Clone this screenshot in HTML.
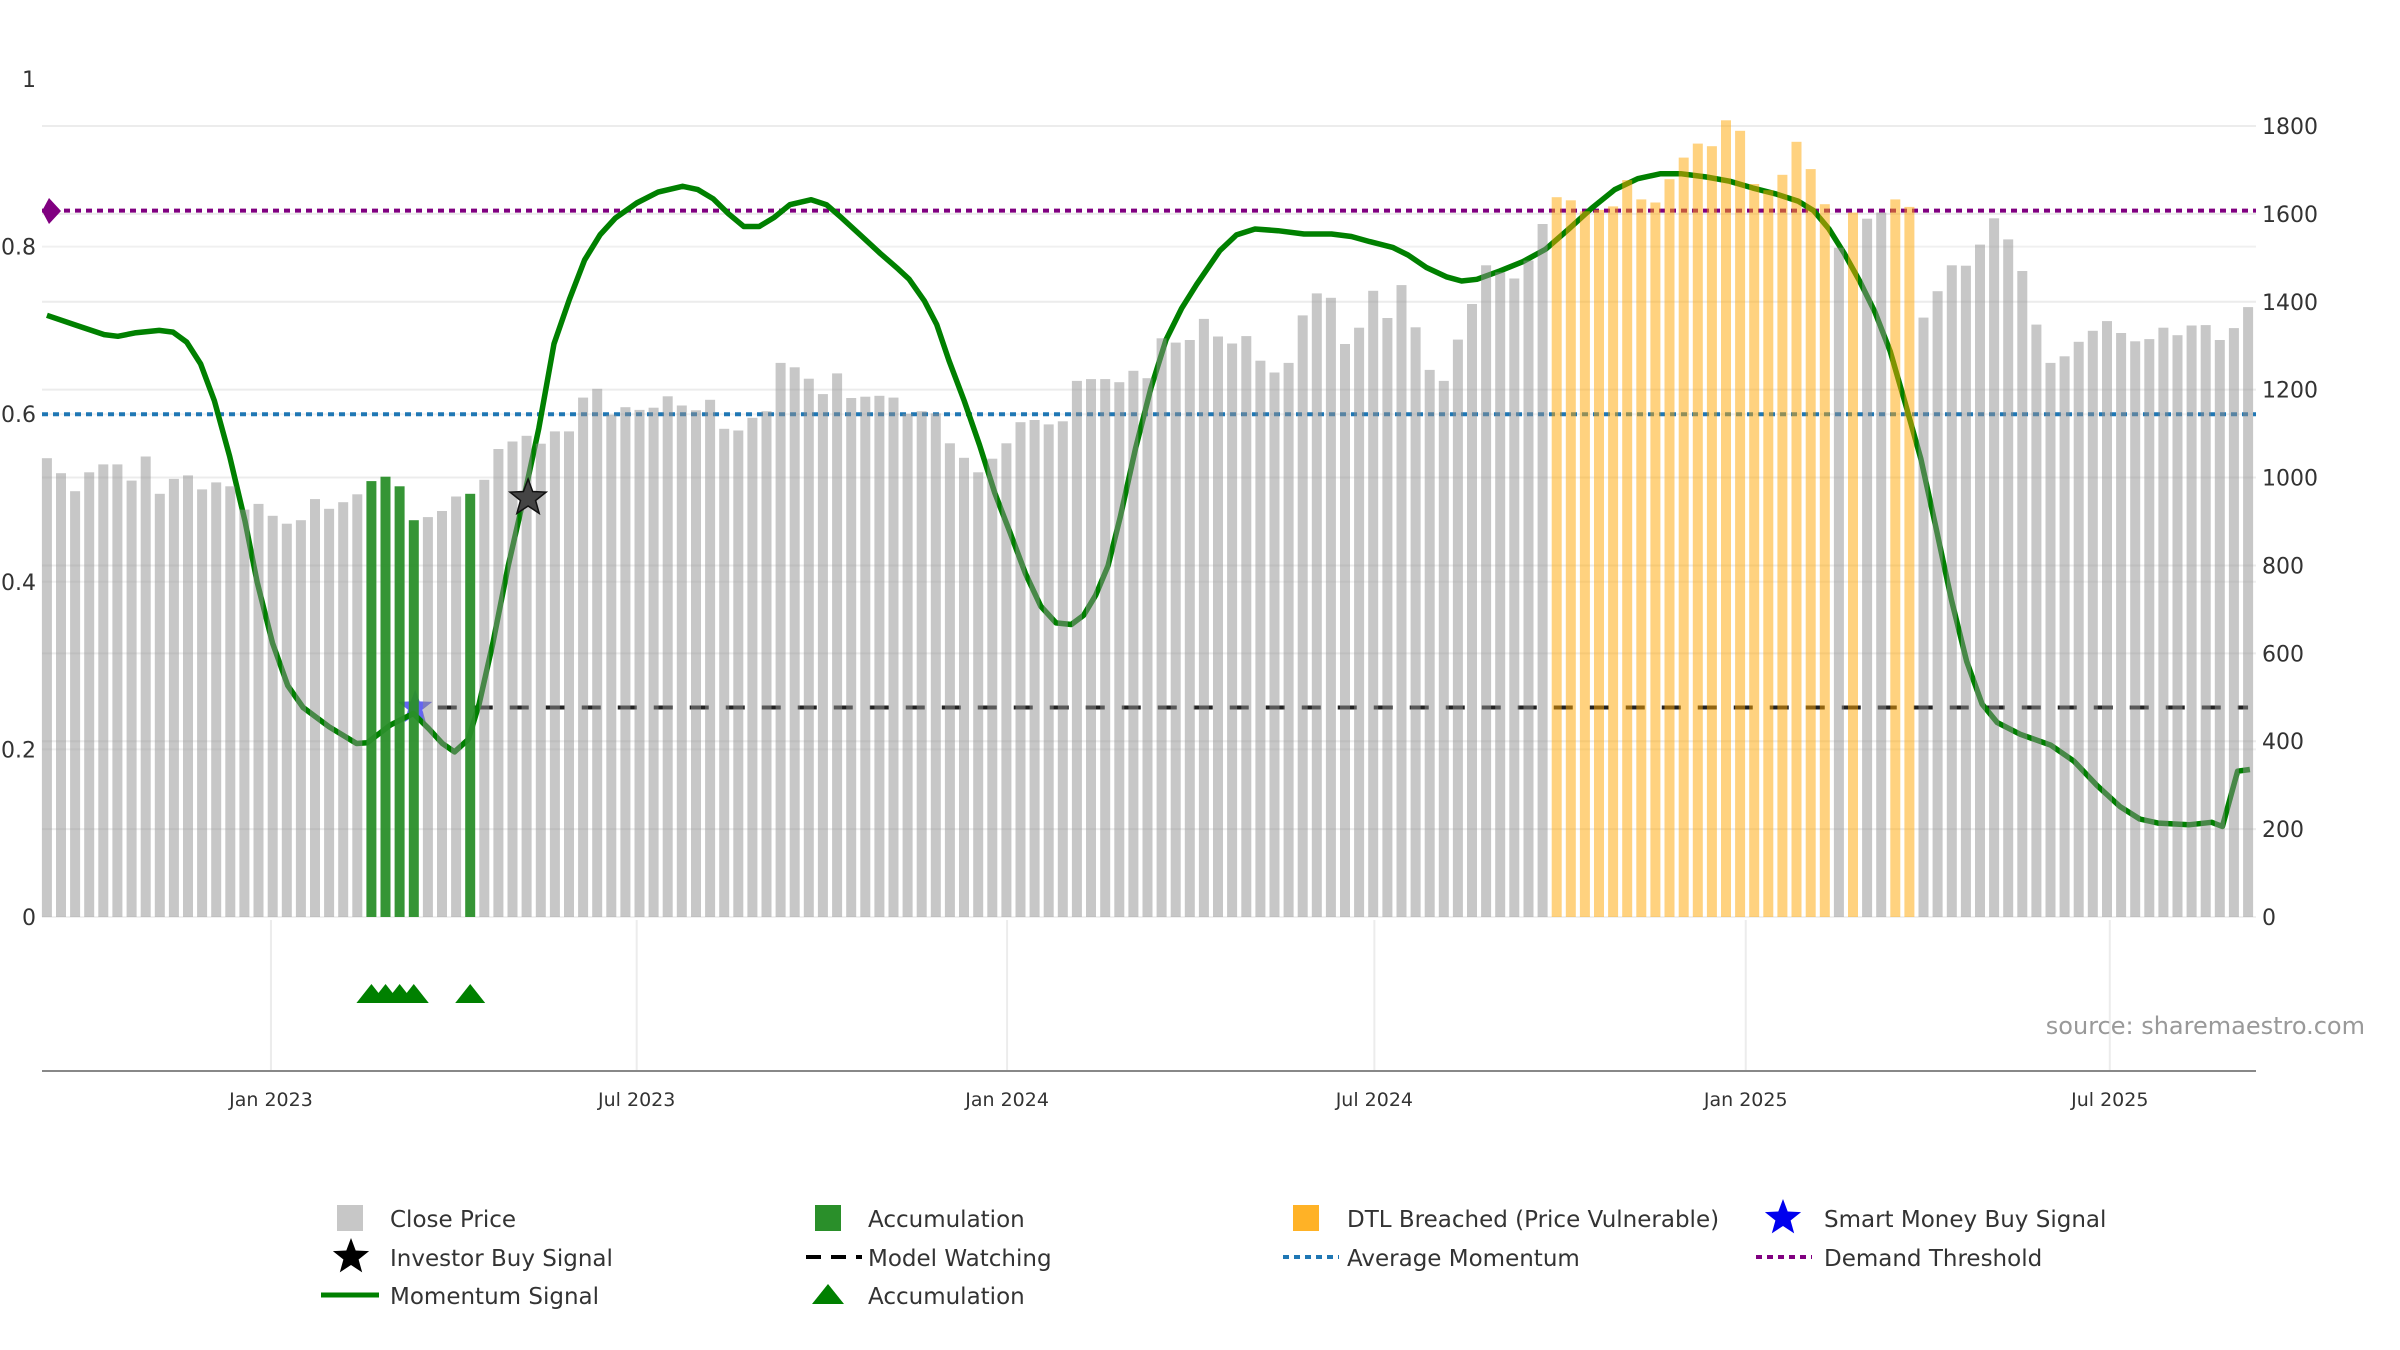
<!DOCTYPE html>
<html><head><meta charset="utf-8"><title>Momentum chart</title>
<style>
html,body{margin:0;padding:0;background:#fff;}
svg{display:block;font-family:"DejaVu Sans","Liberation Sans",sans-serif;}
</style></head>
<body>
<svg id="chart" width="2400" height="1350" viewBox="0 0 2400 1350" xmlns="http://www.w3.org/2000/svg">
<g id="grid"></g>
<g id="refs"></g>
<g id="lineg"></g>
<g id="bars"></g>
<g id="marks"></g>
<g id="axes"></g>
<text x="2365" y="1034" text-anchor="end" font-size="24" fill="#999">source: sharemaestro.com</text>
<g id="legend">
 <rect x="337" y="1205" width="26" height="26" fill="#909090" fill-opacity="0.5"/>
 <text x="390" y="1227" font-size="23" fill="#333">Close Price</text>
 <rect x="815" y="1205" width="26" height="26" fill="#2a8f2a"/>
 <text x="868" y="1227" font-size="23" fill="#333">Accumulation</text>
 <rect x="1293" y="1205" width="26" height="26" fill="#FFA500" fill-opacity="0.85"/>
 <text x="1347" y="1227" font-size="23" fill="#333">DTL Breached (Price Vulnerable)</text>
 <polygon fill="#0000ee" points=""/>
 <text x="1824" y="1227" font-size="23" fill="#333">Smart Money Buy Signal</text>
 <polygon fill="#000" points=""/>
 <text x="390" y="1266" font-size="23" fill="#333">Investor Buy Signal</text>
 <line x1="806" y1="1257" x2="862" y2="1257" stroke="#000" stroke-width="4" stroke-dasharray="15 10"/>
 <text x="868" y="1266" font-size="23" fill="#333">Model Watching</text>
 <line x1="1283" y1="1257" x2="1339" y2="1257" stroke="#1f77b4" stroke-width="4" stroke-dasharray="6 5"/>
 <text x="1347" y="1266" font-size="23" fill="#333">Average Momentum</text>
 <line x1="1756" y1="1257" x2="1812" y2="1257" stroke="#800080" stroke-width="4" stroke-dasharray="6 5"/>
 <text x="1824" y="1266" font-size="23" fill="#333">Demand Threshold</text>
 <line x1="321" y1="1295" x2="379" y2="1295" stroke="#008000" stroke-width="5"/>
 <text x="390" y="1304" font-size="23" fill="#333">Momentum Signal</text>
 <polygon fill="#008000" points="828,1284 844,1304 812,1304"/>
 <text x="868" y="1304" font-size="23" fill="#333">Accumulation</text>
</g>
</svg>
<script>
const closePrices=[1044,1010,969,1012,1030,1030,993,1048,963,997,1005,973,989,980,927,940,913,895,903,951,929,944,962,992,1002,980,903,910,924,957,963,995,1065,1082,1095,1077,1105,1105,1182,1202,1143,1160,1154,1159,1185,1164,1153,1177,1111,1107,1136,1151,1261,1251,1225,1190,1237,1181,1184,1186,1182,1145,1151,1146,1078,1045,1012,1043,1078,1126,1131,1121,1128,1220,1224,1224,1217,1243,1226,1317,1307,1313,1361,1321,1305,1322,1266,1239,1261,1369,1419,1409,1304,1341,1425,1363,1438,1342,1245,1220,1314,1395,1483,1467,1453,1494,1577,1638,1631,1606,1609,1617,1677,1633,1626,1679,1728,1760,1754,1813,1789,1668,1654,1689,1764,1702,1622,1523,1603,1589,1603,1633,1616,1364,1424,1483,1482,1530,1590,1542,1470,1348,1261,1276,1309,1334,1356,1329,1310,1315,1341,1324,1346,1347,1313,1340,1388];
const accumulationBars=[23,24,25,26,30];
const dtlBars=[107,108,109,110,111,112,113,114,115,116,117,118,119,120,121,122,123,124,125,126,128,131,132];
const momentumIdx=[0,2.1,4.06,5.03,6.23,7.96,8.94,9.91,10.89,11.87,12.95,14.03,14.9,15.99,17.07,18.16,20,21.95,22.71,24.34,25.97,27.05,28.03,28.89,29.87,30.63,31.61,32.69,33.88,34.86,35.94,37.03,38.11,39.2,40.28,41.8,43.32,45.05,46.14,47.22,48.31,49.39,50.48,51.56,52.65,54.17,55.25,56.34,57.64,59.05,60.35,61.11,62.2,63.06,63.93,65.01,66.1,67.18,68.26,69.35,70.43,71.52,72.6,73.47,74.33,75.2,76.07,77.15,78.24,79.32,80.41,81.49,83.12,84.31,85.62,87.24,89.09,91.04,92.45,93.75,95.38,96.46,97.77,99.18,100.26,101.35,102.98,104.6,106.23,107.86,109.49,111.11,112.74,114.37,115.78,117.62,119.25,120.87,122.5,124.13,125.21,126.3,127.38,128.47,129.55,130.64,131.72,132.81,133.89,134.98,136.06,137.15,138.23,139.86,142.03,143.66,145.29,146.91,148.32,149.62,151.79,153.42,154.18,155.26,156.13];
const momentumVal=[0.718,0.706,0.695,0.693,0.697,0.700,0.698,0.686,0.660,0.616,0.550,0.473,0.400,0.327,0.276,0.250,0.227,0.207,0.208,0.229,0.243,0.225,0.207,0.197,0.212,0.254,0.327,0.419,0.506,0.583,0.684,0.737,0.784,0.814,0.834,0.852,0.865,0.872,0.868,0.857,0.839,0.824,0.824,0.835,0.850,0.856,0.850,0.834,0.814,0.792,0.773,0.761,0.735,0.707,0.664,0.616,0.563,0.506,0.459,0.410,0.371,0.351,0.349,0.360,0.384,0.419,0.477,0.559,0.631,0.689,0.726,0.755,0.795,0.814,0.821,0.819,0.815,0.815,0.812,0.806,0.799,0.790,0.775,0.764,0.759,0.761,0.771,0.782,0.797,0.821,0.846,0.868,0.881,0.887,0.887,0.883,0.878,0.870,0.863,0.854,0.843,0.821,0.792,0.759,0.722,0.675,0.612,0.547,0.464,0.378,0.305,0.254,0.232,0.218,0.205,0.186,0.157,0.132,0.117,0.112,0.110,0.113,0.108,0.174,0.176];
const leftTicks=[0,0.2,0.4,0.6,0.8,1];
const leftTickLabels=["0","0.2","0.4","0.6","0.8","1"];
const rightTicks=[0,200,400,600,800,1000,1200,1400,1600,1800];
const dateTickIdx=[15.88,41.8,68.05,94.08,120.4,146.2];
const dateTickLabels=["Jan 2023","Jul 2023","Jan 2024","Jul 2024","Jan 2025","Jul 2025"];
const demandThreshold=0.843;
const averageMomentum=0.6;
const modelWatching=0.25;
const modelWatchStartIdx=27.7;
const smartMoneySignal=[{idx:26.1,val:0.25}];
const investorSignal=[{idx:34.1,val:0.5}];
const triangleIdx=[23,24,25,26,30];

const NS="http://www.w3.org/2000/svg";
const X0=46.9,DX=14.11,PL=42,PR=2256;
const xB=i=>X0+i*DX;
const yR=v=>917-v*791/1800;
const yL=v=>917-v*838;
function mk(tag,attrs,parent){const e=document.createElementNS(NS,tag);for(const k in attrs)e.setAttribute(k,attrs[k]);parent.appendChild(e);return e;}
function starPts(cx,cy,R){const r=R*0.42;let p=[];for(let k=0;k<10;k++){const a=-Math.PI/2+k*Math.PI/5;const rr=k%2?r:R;p.push((cx+rr*Math.cos(a)).toFixed(1)+","+(cy+rr*Math.sin(a)).toFixed(1));}return p.join(" ");}

const grid=document.getElementById('grid');
rightTicks.forEach(v=>{const l=mk('line',{x1:PL,x2:PR,y1:yR(v),y2:yR(v),stroke:'#ececec','stroke-width':2},grid);

});
leftTicks.slice(0,5).forEach(v=>{const l=mk('line',{x1:PL,x2:PR,y1:yL(v),y2:yL(v),stroke:'#f0f0f0','stroke-width':2},grid);

});
dateTickIdx.forEach(t=>{const l=mk('line',{x1:xB(t),x2:xB(t),y1:920,y2:1071,stroke:'#ececec','stroke-width':2},grid);

});

const refs=document.getElementById('refs');
let r1=mk('line',{x1:PL,x2:PR,y1:yL(averageMomentum),y2:yL(averageMomentum),stroke:'#1f77b4','stroke-width':4,'stroke-dasharray':'6 5'},refs);


let r2=mk('line',{x1:PL,x2:PR,y1:yL(demandThreshold),y2:yL(demandThreshold),stroke:'#800080','stroke-width':4,'stroke-dasharray':'6 5'},refs);


let r3=mk('line',{x1:xB(modelWatchStartIdx),x2:xB(closePrices.length-1),y1:yL(modelWatching),y2:yL(modelWatching),stroke:'#222','stroke-width':4,'stroke-dasharray':'19 17'},refs);



const marks=document.getElementById('marks');
smartMoneySignal.forEach(s=>{const p=mk('polygon',{points:starPts(xB(s.idx),yL(s.val),18),fill:'#2222ee','fill-opacity':0.7},refs);

});

const lg=document.getElementById('lineg');
const pts=momentumIdx.map((t,i)=>xB(t).toFixed(1)+","+yL(momentumVal[i]).toFixed(1)).join(" ");
let pl=mk('polyline',{points:pts,fill:'none',stroke:'#008000','stroke-width':5.5,'stroke-linejoin':'round'},lg);



const bars=document.getElementById('bars');
closePrices.forEach((v,i)=>{let fill='#909090',op=0.5,name='close-price-bar';
 if(accumulationBars.includes(i)){fill='#2a8f2a';op=0.95;name='accumulation-bar';}
 else if(dtlBars.includes(i)){fill='#FFA500';op=0.5;name='dtl-breached-bar';}
 const b=mk('rect',{x:(xB(i)-5).toFixed(1),y:yR(v).toFixed(1),width:10,height:(917-yR(v)).toFixed(1),fill:fill,'fill-opacity':op},bars);
 
 });

investorSignal.forEach(s=>{const p=mk('polygon',{points:starPts(xB(s.idx),yL(s.val),19),fill:'#444',stroke:'#111','stroke-width':1.5},marks);

});
let dm=mk('polygon',{points:"49,198 61,211 49,224 42,211",fill:'#800080'},marks);


triangleIdx.forEach(t=>{const cx=xB(t);const p=mk('polygon',{points:`${cx},984 ${cx+15},1003 ${cx-15},1003`,fill:'#008000'},marks);

});

const axes=document.getElementById('axes');
let ax=mk('line',{x1:PL,x2:PR,y1:1071,y2:1071,stroke:'#888','stroke-width':2},axes);


leftTicks.forEach((v,i)=>{const t=mk('text',{x:36,y:yL(v)+8,'text-anchor':'end','font-size':22,fill:'#333'},axes);t.textContent=leftTickLabels[i];

});
rightTicks.forEach(v=>{const t=mk('text',{x:2262,y:yR(v)+8,'font-size':22,fill:'#333'},axes);t.textContent=String(v);

});
dateTickIdx.forEach((d,i)=>{const t=mk('text',{x:xB(d),y:1106,'text-anchor':'middle','font-size':19,fill:'#333'},axes);t.textContent=dateTickLabels[i];

});

const lgs=document.querySelectorAll('#legend polygon');
lgs[0].setAttribute('points',starPts(1783,1218,19));
lgs[1].setAttribute('points',starPts(351,1257,19));
</script>
</body></html>
